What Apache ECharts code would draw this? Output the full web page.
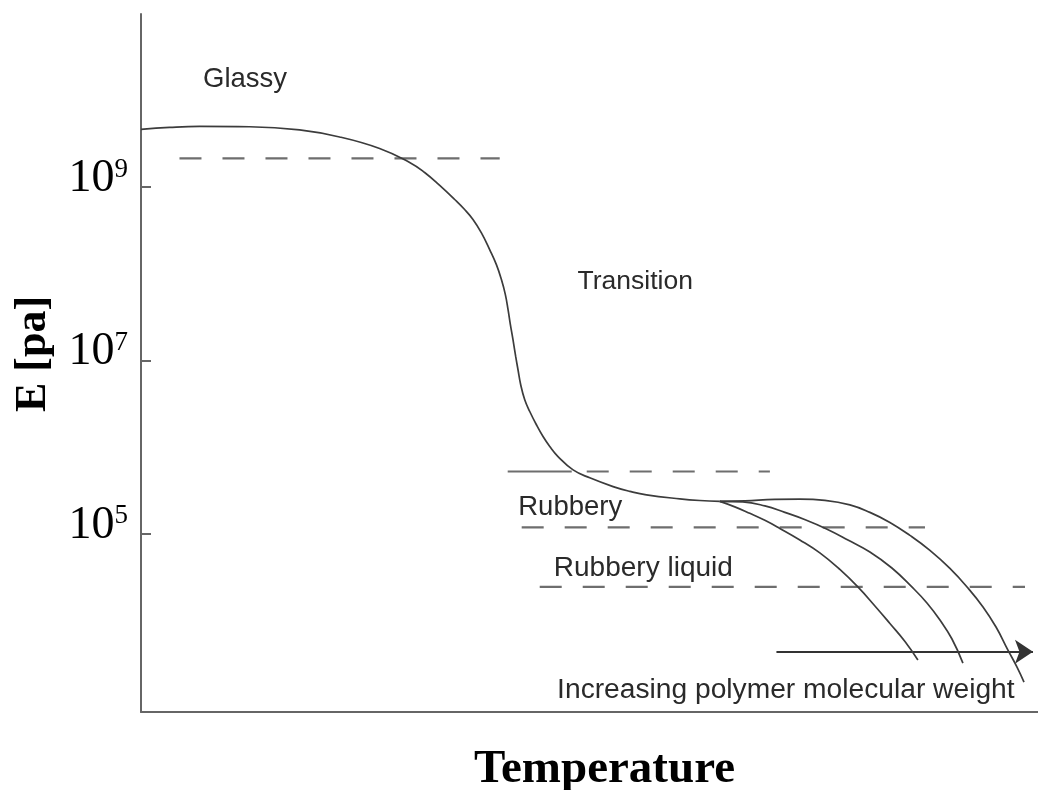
<!DOCTYPE html>
<html>
<head>
<meta charset="utf-8">
<title>Modulus vs temperature</title>
<script src="https://cdn.jsdelivr.net/npm/echarts@6/dist/echarts.min.js"></script>
<style>
  html, body { margin: 0; padding: 0; background: #fff; }
  #chart { width: 1038px; height: 790px; }
</style>
</head>
<body>
<div id="chart"></div>
<script>
// y values are log10(E / Pa), x is temperature in arbitrary units (0-100)
const yTicks = [5, 7, 9]

const mainT = [0, 3.18, 6.53, 12.10, 17.68, 22.14, 26.60, 29.95, 31.62, 33.30, 34.97, 36.08, 37.01, 37.95, 38.87, 39.62, 40.18, 40.62, 40.92, 41.18, 41.47, 41.77, 42.03, 42.33, 42.78, 43.34, 44.08, 44.82, 45.57, 46.49, 48.17, 50.03, 52.63, 54.49, 56.35, 60.07, 62.30, 64.53]
const mainLogE = [9.667, 9.690, 9.702, 9.698, 9.661, 9.580, 9.447, 9.286, 9.170, 9.020, 8.858, 8.742, 8.627, 8.473, 8.280, 8.106, 7.933, 7.760, 7.586, 7.413, 7.239, 7.046, 6.892, 6.719, 6.546, 6.410, 6.257, 6.121, 6.006, 5.890, 5.736, 5.644, 5.543, 5.488, 5.447, 5.401, 5.382, 5.372]

// three flow branches, low to high molecular weight
const branch1T = [64.53, 66.20, 67.87, 69.55, 71.22, 73.45, 75.68, 77.91, 79.92, 81.82, 83.49, 85.17, 86.61]
const branch1LogE = [5.372, 5.309, 5.234, 5.153, 5.060, 4.927, 4.777, 4.586, 4.384, 4.164, 3.962, 3.754, 3.540]
const branch2T = [64.53, 67.09, 69.55, 71.78, 74.12, 76.43, 78.81, 81.26, 83.71, 85.94, 87.62, 89.07, 90.41, 91.63]
const branch2LogE = [5.372, 5.366, 5.320, 5.245, 5.158, 5.054, 4.927, 4.788, 4.603, 4.384, 4.199, 4.002, 3.783, 3.505]
const branch3T = [64.53, 67.32, 70.66, 73.45, 76.24, 79.03, 81.26, 83.49, 85.72, 87.95, 90.18, 92.19, 93.87, 95.32, 96.65, 97.66, 98.44]
const branch3LogE = [5.372, 5.378, 5.395, 5.398, 5.384, 5.332, 5.245, 5.129, 4.979, 4.806, 4.598, 4.372, 4.153, 3.921, 3.655, 3.459, 3.286]

// horizontal dashed reference levels
const levelStartT = [4.29, 49.69, 42.44, 44.45]
const levelEndT = [39.99, 70.11, 87.40, 98.55]
const levelLogE = [9.332, 5.717, 5.072, 4.384]
const leadT = [40.88, 48.02]   // solid piece in front of the 2nd level

const arrowT = [70.84, 99.44]
const arrowLogE = 3.636

const labelText = ['Glassy', 'Transition', 'Rubbery', 'Rubbery liquid', 'Increasing polymer molecular weight']
const labelT = [11.60, 55.10, 47.85, 56.00, 71.89]
const labelLogE = [10.245, 7.913, 5.297, 4.603, 3.193]
const labelFontSize = [27.5, 26.5, 27.5, 28, 28.2]

const pair = (xs, ys) => xs.map((x, i) => [x, ys[i]])

const curveStyle = { color: '#3c3c3c', width: 1.7 }
const dashStyle = { color: '#6e6e6e', width: 2.2, type: [22, 21] }

function curve(name, xs, ys) {
  return {
    name: name,
    type: 'line',
    data: pair(xs, ys),
    showSymbol: false,
    smooth: 0.45,
    lineStyle: curveStyle,
    z: 3
  }
}

const series = []
levelLogE.forEach((y, i) => {
  series.push({
    name: 'level' + i,
    type: 'line',
    data: [[levelStartT[i], y], [levelEndT[i], y]],
    showSymbol: false,
    lineStyle: dashStyle,
    z: 2
  })
})
series.push({
  name: 'lead',
  type: 'line',
  data: leadT.map(x => [x, levelLogE[1]]),
  showSymbol: false,
  lineStyle: { color: '#6e6e6e', width: 2.2 },
  z: 2
})
series.push(curve('main', mainT, mainLogE))
series.push(curve('branch1', branch1T, branch1LogE))
series.push(curve('branch2', branch2T, branch2LogE))
series.push(curve('branch3', branch3T, branch3LogE))
series.push({
  name: 'arrow',
  type: 'lines',
  coordinateSystem: 'cartesian2d',
  symbol: ['none', 'arrow'],
  symbolSize: [13, 18],
  lineStyle: { color: '#333', width: 1.8, opacity: 1 },
  data: [{ coords: arrowT.map(x => [x, arrowLogE]) }],
  z: 3
})
series.push({
  name: 'labels',
  type: 'scatter',
  symbolSize: 0,
  silent: true,
  itemStyle: { opacity: 1 },
  data: labelText.map((t, i) => ({
    name: t,
    value: [labelT[i], labelLogE[i]],
    label: { fontSize: labelFontSize[i] }
  })),
  label: {
    show: true,
    position: 'inside',
    formatter: '{b}',
    color: '#2a2a2a',
    opacity: 1,
    textBorderWidth: 0,
    fontFamily: 'Liberation Sans, Arial, sans-serif'
  },
  z: 4
})

const chart = echarts.init(document.getElementById('chart'))
chart.setOption({
  backgroundColor: '#fff',
  animation: false,
  grid: { left: 141, right: 0, top: 14, bottom: 78, outerBoundsMode: 'none', containLabel: false },
  xAxis: {
    type: 'value',
    min: 0,
    max: 100,
    name: 'Temperature',
    nameLocation: 'middle',
    nameGap: 34,
    nameTextStyle: {
      fontFamily: 'Liberation Serif, Times New Roman, serif',
      fontWeight: 'bold',
      fontSize: 47,
      color: '#000',
      padding: [0, 0, 0, 30]
    },
    axisLine: { lineStyle: { color: '#666', width: 2 } },
    axisTick: { show: false },
    axisLabel: { show: false },
    splitLine: { show: false }
  },
  yAxis: {
    type: 'value',
    min: 2.94,
    max: 11,
    name: 'E [pa]',
    nameLocation: 'middle',
    nameRotate: 90,
    nameGap: 85,
    nameTextStyle: {
      fontFamily: 'Liberation Serif, Times New Roman, serif',
      fontWeight: 'bold',
      fontSize: 44,
      color: '#000',
      padding: [0, 0, 0, 18]
    },
    axisLine: { show: true, lineStyle: { color: '#666', width: 2 } },
    axisTick: {
      show: true,
      inside: true,
      length: 10,
      customValues: yTicks,
      lineStyle: { color: '#666', width: 2 }
    },
    axisLabel: {
      customValues: yTicks,
      margin: 13,
      formatter: v => '{b|10}{e|' + v + '}',
      rich: {
        b: {
          fontFamily: 'Liberation Serif, Times New Roman, serif',
          fontSize: 46,
          color: '#000',
          padding: [0, 0, 16, 0]
        },
        e: {
          fontFamily: 'Liberation Serif, Times New Roman, serif',
          fontSize: 27,
          color: '#000',
          verticalAlign: 'top',
          lineHeight: 27
        }
      }
    },
    splitLine: { show: false }
  },
  series: series
})
</script>
</body>
</html>
